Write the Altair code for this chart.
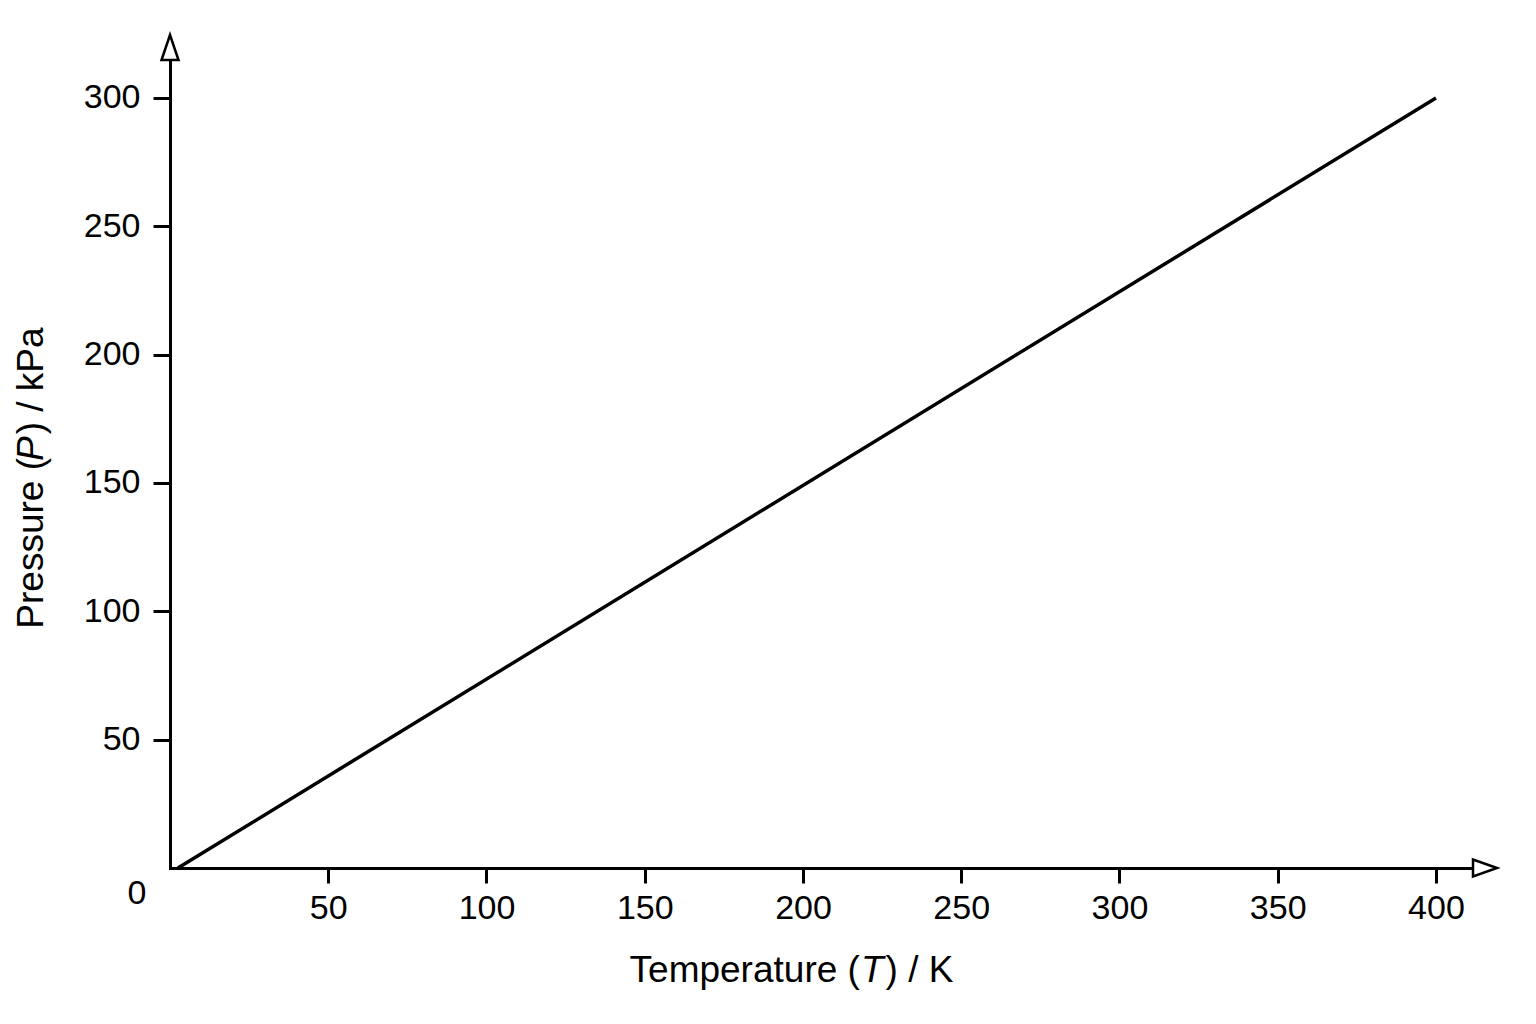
import altair as alt
import pandas as pd

# ---- data ----
temperature = [2.5, 400]      # K
pressure = [0, 300]           # kPa
x_ticks = [50, 100, 150, 200, 250, 300, 350, 400]
y_ticks = [50, 100, 150, 200, 250, 300]
origin_label = ["0"]

# ---- layout (pixels) ----
W, H = 1303, 808
X_MAX = 411.7
Y_MAX = 314.8
FONT = "Liberation Sans"
LABEL_FS = 34
TITLE_FS = 37

# Arial / Liberation Sans advance widths (em) for title layout
ADV = {"T": .611, "e": .556, "m": .833, "p": .556, "r": .333, "a": .556, "t": .278,
       "u": .556, " ": .278, "(": .333, ")": .333, "/": .278, "K": .667, "P": .667,
       "s": .5, "k": .5}


def width(s):
    return sum(ADV[c] for c in s) * TITLE_FS


df = pd.DataFrame({"T": temperature, "P": pressure})

xscale = alt.Scale(domain=[0, X_MAX], nice=False, zero=True)
yscale = alt.Scale(domain=[0, Y_MAX], nice=False, zero=True)

axis_common = dict(
    grid=False, domainColor="black", domainWidth=3, domainCap="square",
    tickColor="black", tickWidth=3, labelFont=FONT, labelFontSize=LABEL_FS,
    labelColor="black", title=None, labelFlush=False, labelOverlap=False,
)

line = alt.Chart(df).mark_line(color="black", strokeWidth=3.5).encode(
    x=alt.X("T:Q", scale=xscale,
            axis=alt.Axis(values=x_ticks, tickSize=15, labelPadding=8, **axis_common)),
    y=alt.Y("P:Q", scale=yscale,
            axis=alt.Axis(values=y_ticks, tickSize=17, labelPadding=13, **axis_common)),
)

zero = alt.Chart(pd.DataFrame({"T": [0], "P": [0], "lab": origin_label})).mark_text(
    font=FONT, fontSize=LABEL_FS, color="black", align="center", baseline="middle",
    dx=-33, dy=26,
).encode(x=alt.X("T:Q", scale=xscale), y=alt.Y("P:Q", scale=yscale), text="lab:N")

one = pd.DataFrame({"k": [0]})

arrow_y = alt.Chart(one).mark_point(
    shape="M0,-1L0.68,1L-0.68,1Z", size=625, filled=True, fill="white",
    fillOpacity=1, stroke="black", strokeWidth=2.5, opacity=1,
).encode(x=alt.value(0), y=alt.value(-12.5))

arrow_x = alt.Chart(one).mark_point(
    shape="M1,0L-1,-0.7L-1,0.7Z", size=576, filled=True, fill="white",
    fillOpacity=1, stroke="black", strokeWidth=2.5, opacity=1,
).encode(x=alt.value(W + 12), y=alt.value(H))

# x title: "Temperature (" + italic "T" + ") / K"
xs1, xs2, xs3 = "Temperature (", "T", ") / K"
x_center = 792 - 170
x_start = x_center - (width(xs1) + width(xs2) + width(xs3)) / 2
x_base = 982 - 60
ITAL_SHIFT = 3


def txt(s, x, y, italic=False, angle=0):
    return alt.Chart(one).mark_text(
        text=s, font=FONT, fontSize=TITLE_FS, color="black", align="left",
        baseline="alphabetic", fontStyle="italic" if italic else "normal", angle=angle,
    ).encode(x=alt.value(x), y=alt.value(y))


xt = [
    txt(xs1, x_start, x_base),
    txt(xs2, x_start + width(xs1) - ITAL_SHIFT, x_base, italic=True),
    txt(xs3, x_start + width(xs1) + width(xs2) - 1, x_base),
]

# y title: "Pressure (" + italic "P" + ") / kPa", rotated
ys1, ys2, ys3 = "Pressure (", "P", ") / kPa"
y_center = 477.5 - 60
y_start = y_center + (width(ys1) + width(ys2) + width(ys3)) / 2
y_base = 43 - 170

yt = [
    txt(ys1, y_base, y_start, angle=270),
    txt(ys2, y_base, y_start - width(ys1) + ITAL_SHIFT, italic=True, angle=270),
    txt(ys3, y_base, y_start - width(ys1) - width(ys2) + 1, angle=270),
]

chart = alt.layer(line, zero, arrow_y, arrow_x, *xt, *yt).properties(
    width=W, height=H,
    autosize=alt.AutoSizeParams(type="none"),
    padding={"left": 162, "top": 52, "right": 40, "bottom": 140},
    background="white",
).configure_view(stroke=None)

chart.save("out.html", embed_options={"renderer": "svg", "actions": False})
